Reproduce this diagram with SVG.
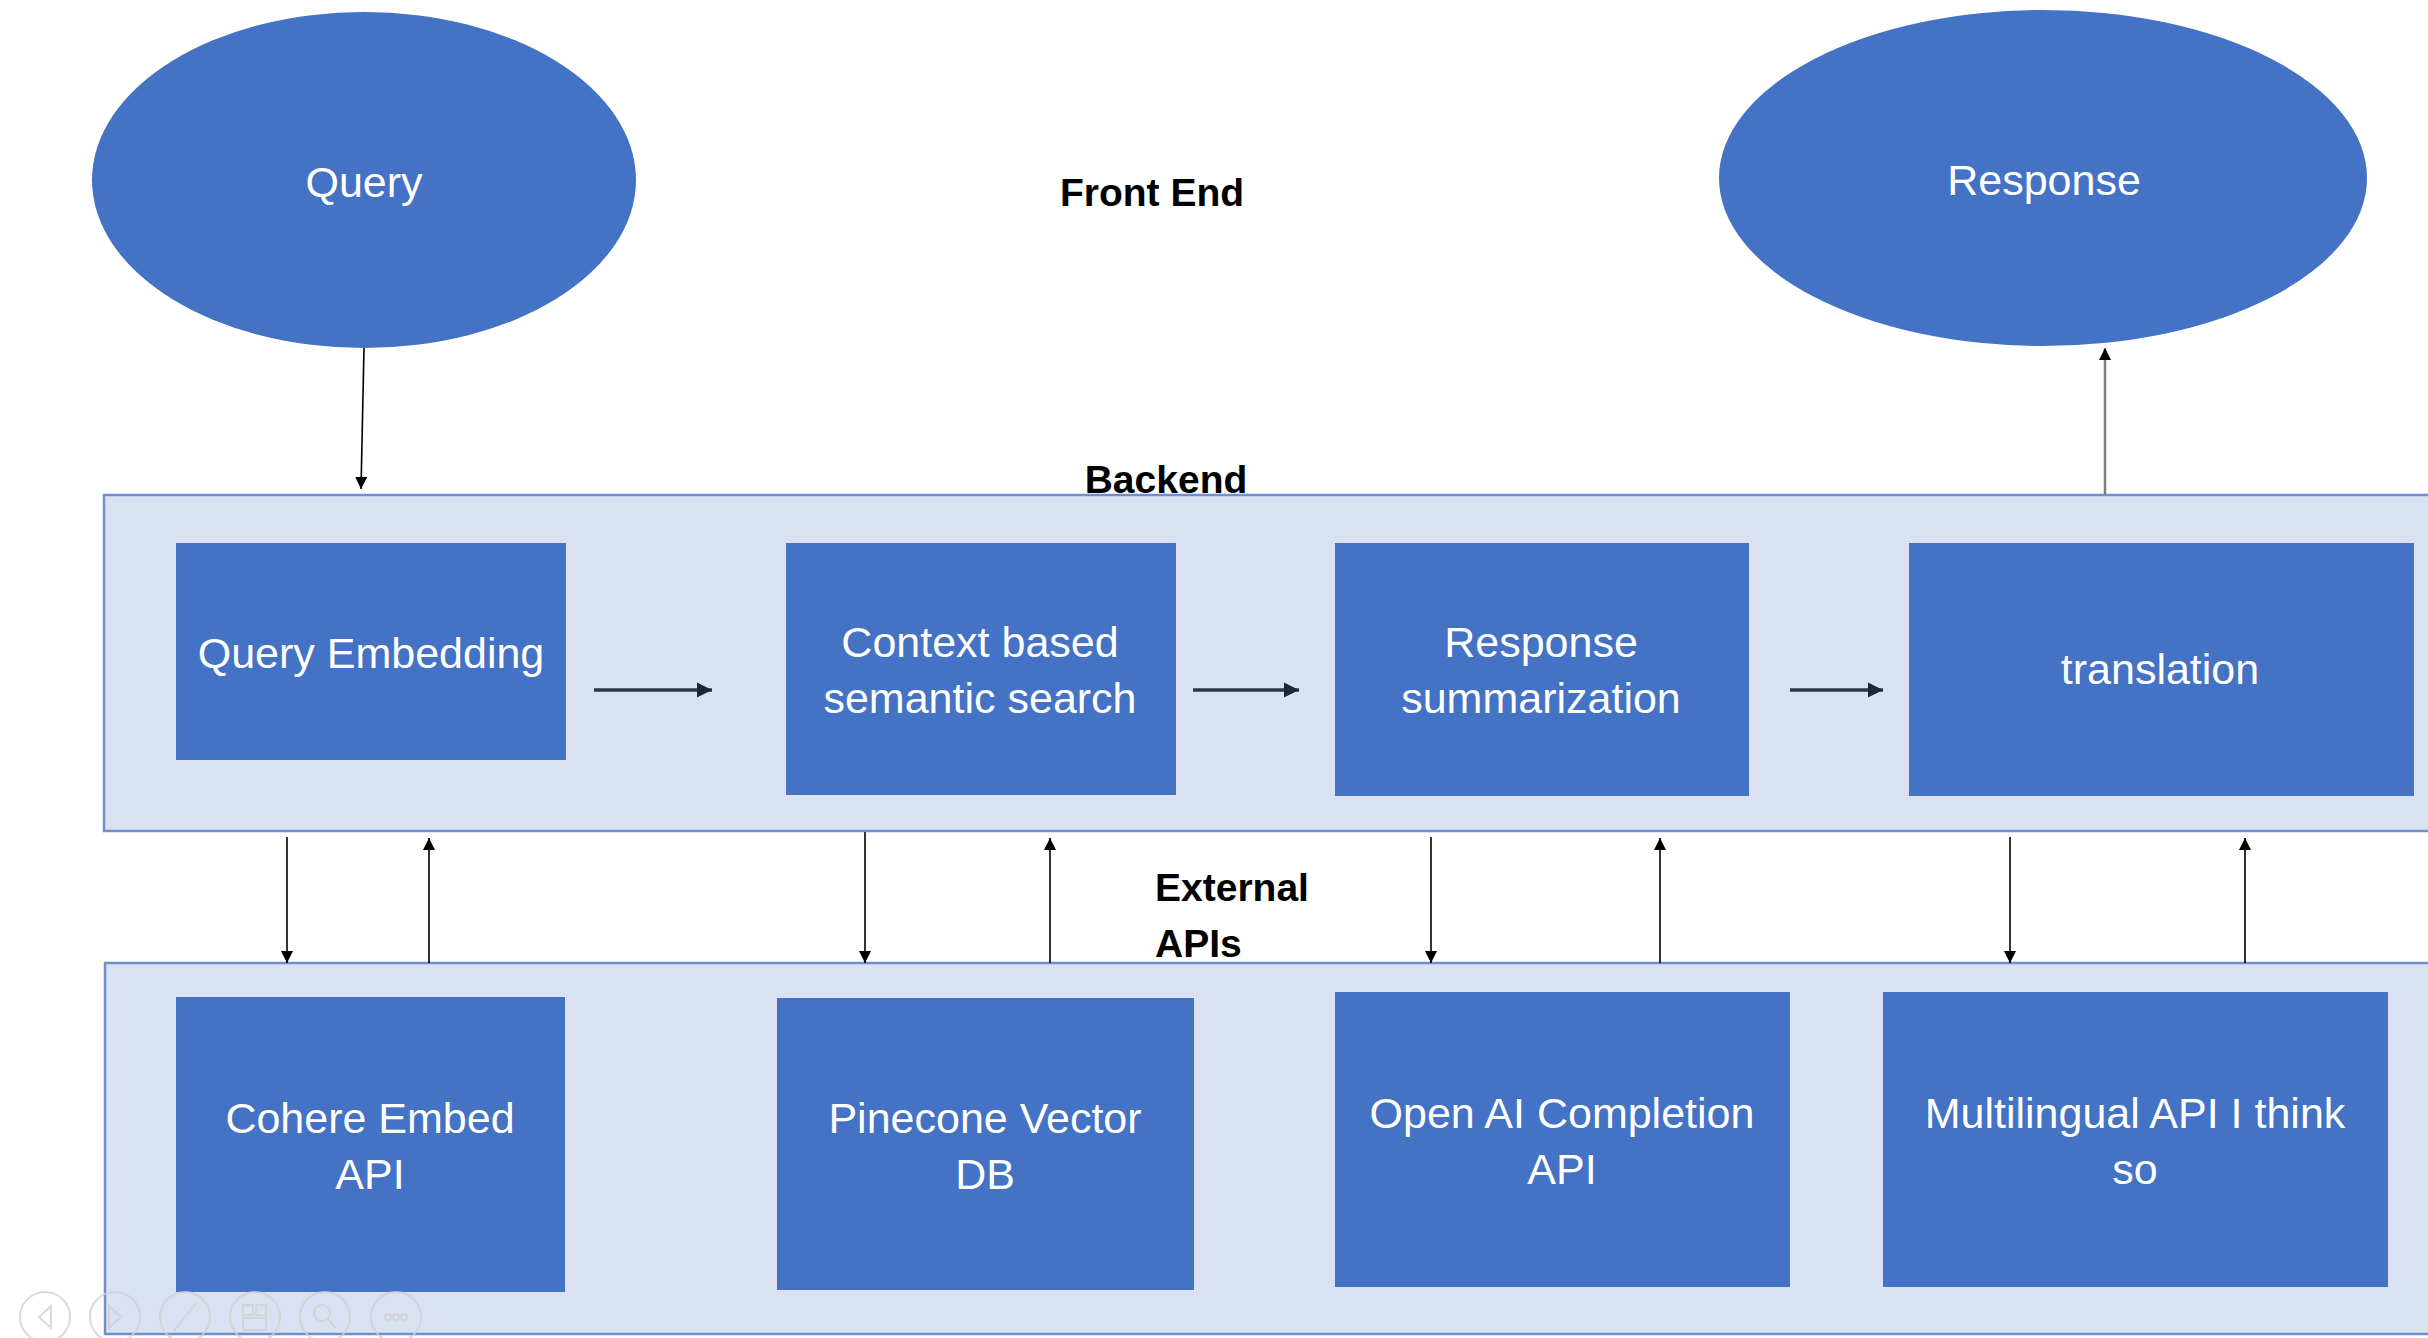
<svg xmlns="http://www.w3.org/2000/svg" width="2428" height="1338" viewBox="0 0 2428 1338">
<defs>
<style>
.node{fill:#4472C4;}
.lbl{font-family:"Liberation Sans",Arial,sans-serif;font-size:43px;fill:#FFFFFF;text-anchor:middle;}
.ttl{font-family:"Liberation Sans",Arial,sans-serif;font-size:39px;font-weight:bold;fill:#000000;}
.band{fill:#D9E1F2;stroke:#6F8FCF;stroke-width:2.5;}
.v{stroke:#000000;stroke-width:1.6;fill:none;}
.h{stroke:#2E3748;stroke-width:3.5;fill:none;}
.ui{fill:none;stroke:#D2D2D2;stroke-width:2;}
</style>
<marker id="av" viewBox="0 0 10 10" refX="10" refY="5" markerWidth="16" markerHeight="12" markerUnits="userSpaceOnUse" orient="auto"><path d="M0,0 L10,5 L0,10 Z" fill="#000"/></marker>
<marker id="ah" viewBox="0 0 10 10" refX="10" refY="5" markerWidth="15" markerHeight="16" markerUnits="userSpaceOnUse" orient="auto"><path d="M0,0 L10,5 L0,10 Z" fill="#1F2636"/></marker>
</defs>
<rect x="0" y="0" width="2428" height="1338" fill="#FFFFFF"/>

<g id="backend">
<rect class="band" x="104" y="495" width="2340" height="336"/>
<text class="ttl" x="1166" y="493" text-anchor="middle">Backend</text>
</g>
<g id="external-apis">
<rect class="band" x="105" y="963" width="2340" height="371"/>
<text class="ttl" x="1155" y="901">External</text>
<text class="ttl" x="1155" y="957">APIs</text>
</g>
<g id="front-end">
<text class="ttl" x="1152" y="206" text-anchor="middle">Front End</text>
</g>

<g id="query">
<ellipse class="node" cx="364" cy="180" rx="272" ry="168"/>
<text class="lbl" x="364" y="197">Query</text>
</g>
<g id="response">
<ellipse class="node" cx="2043" cy="178" rx="324" ry="168"/>
<text class="lbl" x="2044" y="195">Response</text>
</g>

<g id="query-embedding">
<rect class="node" x="176" y="543" width="390" height="217"/>
<text class="lbl" x="371" y="668">Query Embedding</text>
</g>
<g id="context-search">
<rect class="node" x="786" y="543" width="390" height="252"/>
<text class="lbl" x="980" y="657">Context based</text>
<text class="lbl" x="980" y="713">semantic search</text>
</g>
<g id="response-summarization">
<rect class="node" x="1335" y="543" width="414" height="253"/>
<text class="lbl" x="1541" y="657">Response</text>
<text class="lbl" x="1541" y="713">summarization</text>
</g>
<g id="translation">
<rect class="node" x="1909" y="543" width="505" height="253"/>
<text class="lbl" x="2160" y="684">translation</text>
</g>

<g id="cohere-embed-api">
<rect class="node" x="176" y="997" width="389" height="295"/>
<text class="lbl" x="370" y="1133">Cohere Embed</text>
<text class="lbl" x="370" y="1189">API</text>
</g>
<g id="pinecone-vector-db">
<rect class="node" x="777" y="998" width="417" height="292"/>
<text class="lbl" x="985" y="1133">Pinecone Vector</text>
<text class="lbl" x="985" y="1189">DB</text>
</g>
<g id="openai-completion-api">
<rect class="node" x="1335" y="992" width="455" height="295"/>
<text class="lbl" x="1562" y="1128">Open AI Completion</text>
<text class="lbl" x="1562" y="1184">API</text>
</g>
<g id="multilingual-api">
<rect class="node" x="1883" y="992" width="505" height="295"/>
<text class="lbl" x="2135" y="1128">Multilingual API I think</text>
<text class="lbl" x="2135" y="1184">so</text>
</g>

<g id="connectors">
<line class="v" x1="364" y1="348" x2="361" y2="489" marker-end="url(#av)"/>
<line x1="2105" y1="495" x2="2105" y2="348" stroke="#7F7F7F" stroke-width="2.5" marker-end="url(#av)"/>
<line class="h" x1="594" y1="690" x2="712" y2="690" marker-end="url(#ah)"/>
<line class="h" x1="1193" y1="690" x2="1299" y2="690" marker-end="url(#ah)"/>
<line class="h" x1="1790" y1="690" x2="1883" y2="690" marker-end="url(#ah)"/>
<line class="v" x1="287" y1="837" x2="287" y2="963" marker-end="url(#av)"/>
<line class="v" x1="429" y1="963" x2="429" y2="838" marker-end="url(#av)"/>
<line class="v" x1="865" y1="832" x2="865" y2="963" marker-end="url(#av)"/>
<line class="v" x1="1050" y1="963" x2="1050" y2="838" marker-end="url(#av)"/>
<line class="v" x1="1431" y1="837" x2="1431" y2="963" marker-end="url(#av)"/>
<line class="v" x1="1660" y1="963" x2="1660" y2="838" marker-end="url(#av)"/>
<line class="v" x1="2010" y1="837" x2="2010" y2="963" marker-end="url(#av)"/>
<line class="v" x1="2245" y1="963" x2="2245" y2="838" marker-end="url(#av)"/>
</g>

<g id="toolbar" opacity="0.8">
<circle class="ui" cx="45" cy="1317" r="25"/>
<path class="ui" d="M51,1306 L39,1317 L51,1328 Z"/>
<circle class="ui" cx="115" cy="1317" r="25"/>
<path class="ui" d="M109,1306 L121,1317 L109,1328 Z"/>
<circle class="ui" cx="185" cy="1317" r="25"/>
<path class="ui" d="M174,1331 L196,1303"/>
<circle class="ui" cx="255" cy="1317" r="25"/>
<rect class="ui" x="243" y="1305" width="10" height="10"/>
<rect class="ui" x="256" y="1305" width="10" height="10"/>
<rect class="ui" x="243" y="1318" width="23" height="12"/>
<circle class="ui" cx="325" cy="1317" r="25"/>
<circle class="ui" cx="322" cy="1313" r="8"/>
<path class="ui" d="M328,1319 L336,1328"/>
<circle class="ui" cx="396" cy="1317" r="25"/>
<circle class="ui" cx="388" cy="1317" r="3"/>
<circle class="ui" cx="396" cy="1317" r="3"/>
<circle class="ui" cx="404" cy="1317" r="3"/>
</g>
</svg>
